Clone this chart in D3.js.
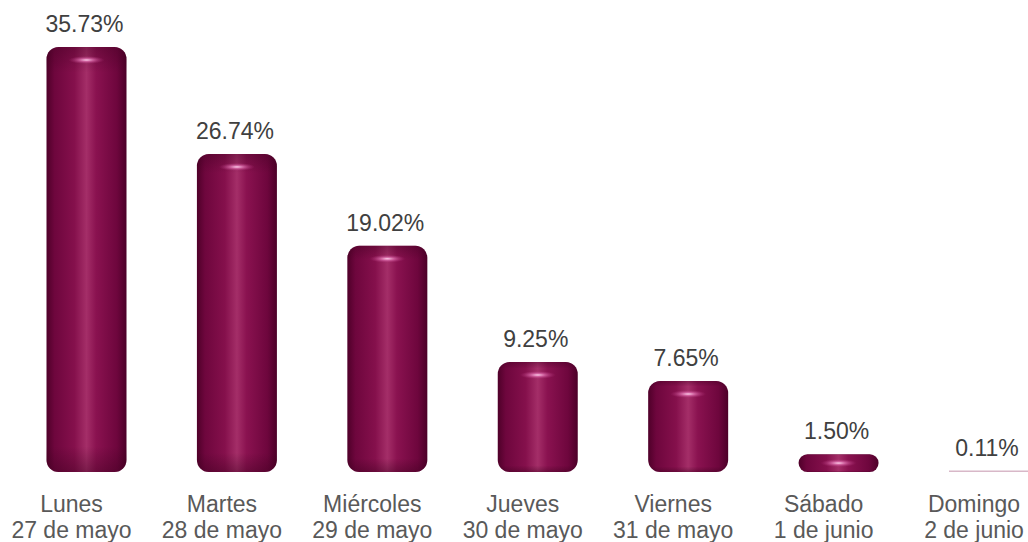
<!DOCTYPE html>
<html>
  <head>
    <meta charset="utf-8">
    <script src="https://cdn.jsdelivr.net/npm/d3@7"></script>
    <style>
      body { margin: 0; background: #fff; }
      text { font-family: "Liberation Sans", Arial, sans-serif; }
    </style>
  </head>
<body>
  <script type="text/javascript">

  // Data
  var days = ["Lunes", "Martes", "Miércoles", "Jueves", "Viernes", "Sábado", "Domingo"];
  var dates = ["27 de mayo", "28 de mayo", "29 de mayo", "30 de mayo", "31 de mayo", "1 de junio", "2 de junio"];
  var shares = [35.73, 26.74, 19.02, 9.25, 7.65, 1.50, 0.11];
  var labels = ["35.73%", "26.74%", "19.02%", "9.25%", "7.65%", "1.50%", "0.11%"];

  var width = 1028, height = 542,
      barW = 80;

  var svg = d3.select("body")
    .append("svg")
      .attr("width", width)
      .attr("height", height);

  var x = d3.scalePoint()
    .domain(days)
    .range([86.5, 989]);

  var y = d3.scaleLinear()
    .domain([0, 35.73])
    .range([472, 47]);

  // Gradients for the cylinder look
  var defs = svg.append("defs");

  var body = defs.append("linearGradient")
    .attr("id", "body")
    .attr("x1", "0%").attr("x2", "100%")
    .attr("y1", "0%").attr("y2", "0%");
  body.append("stop").attr("offset", "0%").attr("stop-color", "#4f0029");
  body.append("stop").attr("offset", "10%").attr("stop-color", "#6e063d");
  body.append("stop").attr("offset", "35%").attr("stop-color", "#85104c");
  body.append("stop").attr("offset", "50%").attr("stop-color", "#a42e68");
  body.append("stop").attr("offset", "62%").attr("stop-color", "#8a1250");
  body.append("stop").attr("offset", "88%").attr("stop-color", "#6e063d");
  body.append("stop").attr("offset", "100%").attr("stop-color", "#4c0028");

  var shade = defs.append("linearGradient")
    .attr("id", "shade")
    .attr("x1", "0%").attr("x2", "0%")
    .attr("y1", "0%").attr("y2", "100%");
  shade.append("stop").attr("offset", "0%").attr("stop-color", "#3a001d").attr("stop-opacity", 0.35);
  shade.append("stop").attr("offset", "6%").attr("stop-color", "#3a001d").attr("stop-opacity", 0);
  shade.append("stop").attr("offset", "94%").attr("stop-color", "#3a001d").attr("stop-opacity", 0);
  shade.append("stop").attr("offset", "100%").attr("stop-color", "#3a001d").attr("stop-opacity", 0.4);

  var glow = defs.append("radialGradient")
    .attr("id", "glow")
    .attr("cx", "50%").attr("cy", "50%").attr("r", "50%");
  glow.append("stop").attr("offset", "0%").attr("stop-color", "#ffd0ec").attr("stop-opacity", 1);
  glow.append("stop").attr("offset", "40%").attr("stop-color", "#e070b0").attr("stop-opacity", 0.7);
  glow.append("stop").attr("offset", "100%").attr("stop-color", "#b03078").attr("stop-opacity", 0);

  var bars = svg.selectAll("g.bar")
    .data(days)
    .enter()
    .append("g")
      .attr("class", "bar");

  bars.each(function(d, i) {
    var g = d3.select(this);
    var top = y(shares[i]),
        h = y(0) - top,
        cx = x(d),
        r = Math.min(12, h / 2);

    if (h < 3) {
      // almost nothing: a thin pale line
      g.append("rect")
        .attr("x", cx - barW / 2)
        .attr("y", y(0) - 1.5)
        .attr("width", barW)
        .attr("height", 1.5)
        .attr("fill", "#d8b8c8");
      return;
    }

    g.append("rect")
      .attr("x", cx - barW / 2)
      .attr("y", top)
      .attr("width", barW)
      .attr("height", h)
      .attr("rx", r)
      .attr("ry", r)
      .attr("fill", "url(#body)");

    g.append("rect")
      .attr("x", cx - barW / 2)
      .attr("y", top)
      .attr("width", barW)
      .attr("height", h)
      .attr("rx", r)
      .attr("ry", r)
      .attr("fill", "url(#shade)");

    // highlight on the top cap
    g.append("ellipse")
      .attr("cx", cx)
      .attr("cy", top + Math.min(13, h / 2))
      .attr("rx", 18)
      .attr("ry", Math.min(4, h / 4))
      .attr("fill", "url(#glow)");
  });

  // value labels
  svg.selectAll("text.value")
    .data(labels)
    .enter()
    .append("text")
      .attr("class", "value")
      .attr("x", function(d, i) { return x(days[i]) - 2; })
      .attr("y", function(d, i) { return y(shares[i]) - 15; })
      .attr("text-anchor", "middle")
      .attr("font-size", 23)
      .attr("fill", "#404040")
      .text(function(d) { return d; });

  // category labels, two lines, kept inside the page on the right
  var cat = svg.selectAll("text.cat")
    .data(days)
    .enter()
    .append("text")
      .attr("class", "cat")
      .attr("text-anchor", "middle")
      .attr("font-size", 23)
      .attr("fill", "#595959");

  cat.append("tspan")
    .attr("y", 512)
    .text(function(d) { return d; });

  cat.append("tspan")
    .attr("y", 538)
    .text(function(d, i) { return dates[i]; });

  cat.each(function(d) {
    var t = d3.select(this);
    var half = d3.max(t.selectAll("tspan").nodes(), function(n) { return n.getComputedTextLength(); }) / 2;
    var cx = Math.min(x(d) - 15, width - half - 2);
    t.selectAll("tspan").attr("x", cx);
  });

  </script>
</body>
</html>
